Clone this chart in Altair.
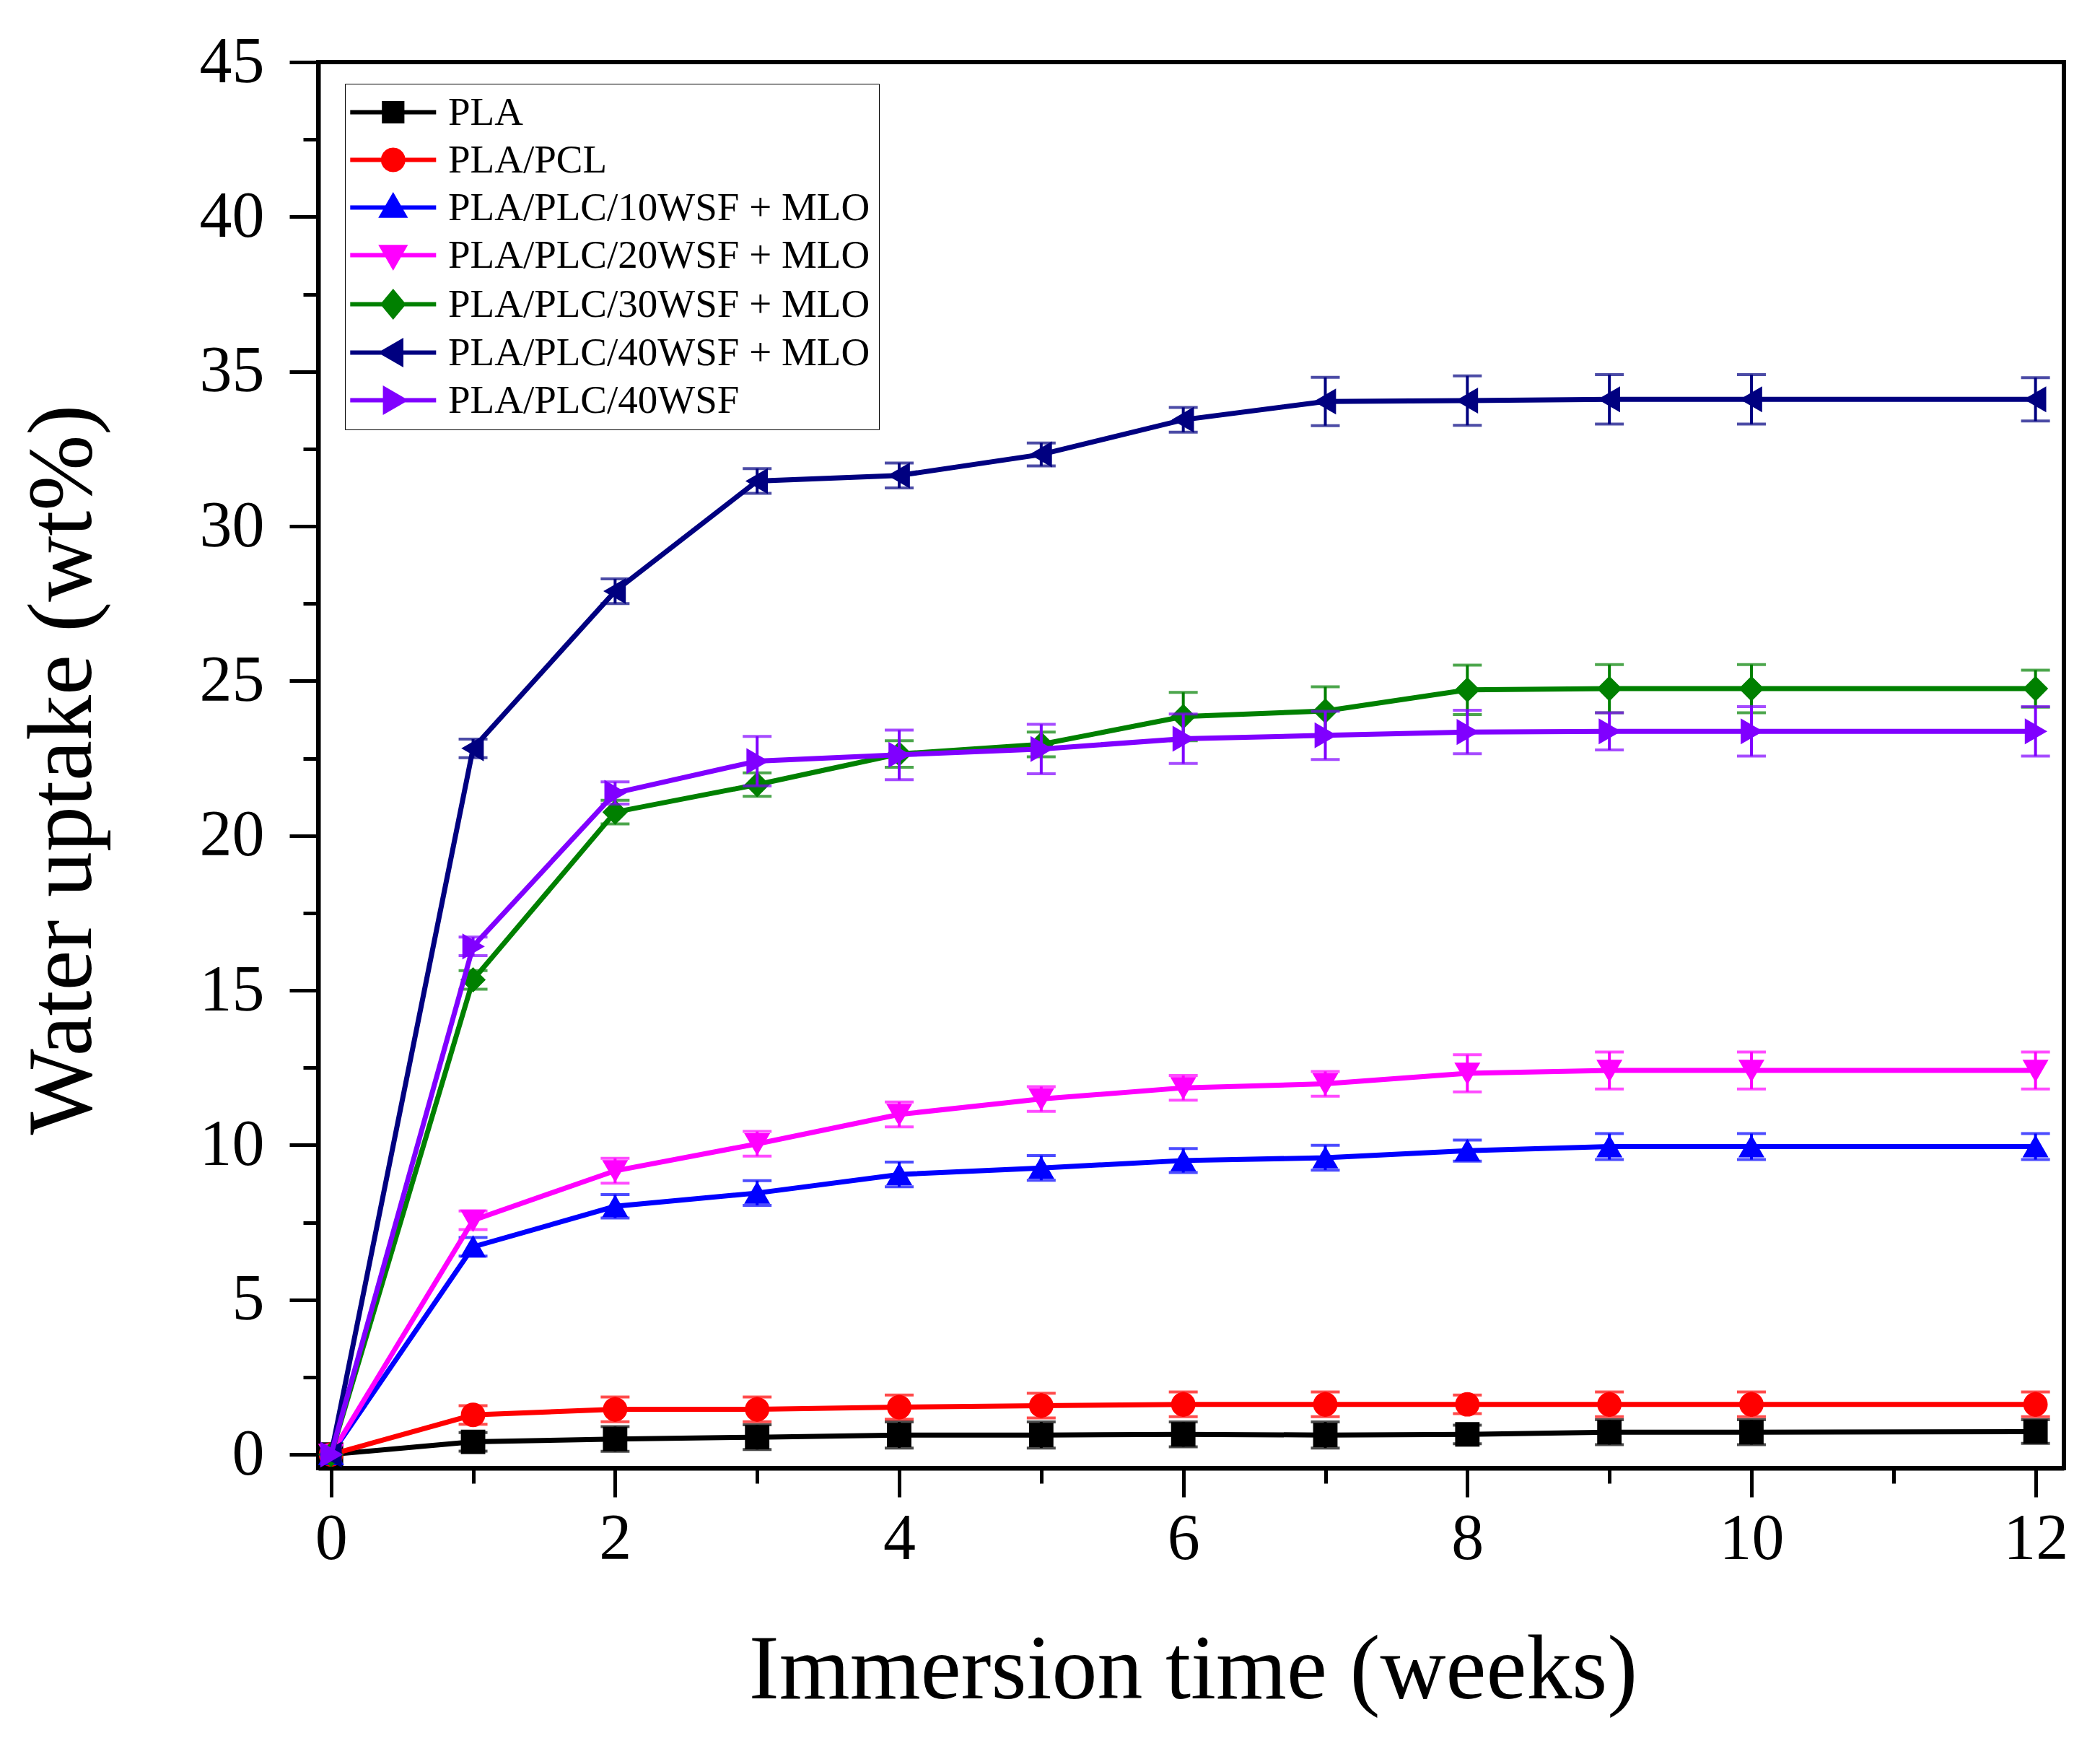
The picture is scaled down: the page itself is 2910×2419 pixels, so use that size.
import math
import altair as alt
import pandas as pd

# immersion time (weeks) - no measurement at week 11
weeks = [0, 1, 2, 3, 4, 5, 6, 7, 8, 9, 10, 12]

names = ["PLA", "PLA/PCL", "PLA/PLC/10WSF + MLO", "PLA/PLC/20WSF + MLO",
         "PLA/PLC/30WSF + MLO", "PLA/PLC/40WSF + MLO", "PLA/PLC/40WSF"]
colors = ["#000000", "#FF0000", "#0000FF", "#FF00FF", "#008000", "#000080", "#8000FF"]
shapes = ["square", "circle", "triangle-up", "triangle-down", "diamond",
          "triangle-left", "triangle-right"]

# water uptake (wt%) and error bars
pla = [0, 0.41, 0.50, 0.56, 0.63, 0.63, 0.65, 0.63, 0.65, 0.72, 0.72, 0.74]
pla_err = [0, 0.30, 0.40, 0.40, 0.42, 0.42, 0.40, 0.42, 0.30, 0.40, 0.40, 0.38]
pcl = [0, 1.28, 1.46, 1.46, 1.53, 1.58, 1.62, 1.62, 1.62, 1.62, 1.62, 1.62]
pcl_err = [0, 0.30, 0.40, 0.40, 0.39, 0.40, 0.40, 0.40, 0.30, 0.40, 0.40, 0.40]
wsf10 = [0, 6.71, 8.02, 8.45, 9.05, 9.26, 9.50, 9.59, 9.82, 9.95, 9.95, 9.95]
wsf10_err = [0, 0.30, 0.38, 0.40, 0.40, 0.40, 0.39, 0.40, 0.34, 0.42, 0.42, 0.42]
wsf20 = [0, 7.57, 9.17, 10.04, 10.99, 11.49, 11.85, 11.98, 12.32, 12.41, 12.41, 12.41]
wsf20_err = [0, 0.30, 0.40, 0.40, 0.40, 0.40, 0.40, 0.40, 0.60, 0.60, 0.60, 0.60]
wsf30 = [0, 15.34, 20.76, 21.65, 22.64, 22.95, 23.85, 24.03, 24.71, 24.75, 24.75, 24.75]
wsf30_err = [0, 0.30, 0.38, 0.38, 0.43, 0.40, 0.78, 0.78, 0.80, 0.78, 0.78, 0.60]
wsf40_mlo = [0, 22.82, 27.90, 31.46, 31.64, 32.32, 33.44, 34.03, 34.06, 34.10, 34.10, 34.10]
wsf40_mlo_err = [0, 0.30, 0.40, 0.40, 0.40, 0.37, 0.40, 0.78, 0.80, 0.80, 0.80, 0.70]
wsf40 = [0, 16.42, 21.38, 22.41, 22.61, 22.80, 23.13, 23.24, 23.35, 23.37, 23.37, 23.37]
wsf40_err = [0, 0.30, 0.36, 0.80, 0.80, 0.80, 0.80, 0.78, 0.70, 0.60, 0.80, 0.80]

values = [pla, pcl, wsf10, wsf20, wsf30, wsf40_mlo, wsf40]
errors = [pla_err, pcl_err, wsf10_err, wsf20_err, wsf30_err, wsf40_mlo_err, wsf40_err]

rows = []
for n, v, e in zip(names, values, errors):
    for w, y, d in zip(weeks, v, e):
        rows.append({"series": n, "week": w, "uptake": y, "lo": y - d, "hi": y + d, "err": d})
df = pd.DataFrame(rows)

FONT = "Liberation Serif"

x_scale = alt.Scale(domain=[-0.09, 12.2], nice=False, zero=False)
y_scale = alt.Scale(domain=[-0.44, 45], nice=False, zero=False)

x_axis = alt.Axis(
    values=list(range(0, 13)),
    labelExpr="datum.value % 2 == 0 ? datum.label : ''",
    tickSize={"condition": {"test": "datum.value % 2 == 0", "value": 40}, "value": 21},
    labelPadding=14,
    title="Immersion time (weeks)",
    titleX=1212, titleY=318, titleBaseline="alphabetic", titleAlign="center",
)
y_axis = alt.Axis(
    values=[i * 2.5 for i in range(0, 19)],
    labelExpr="datum.value % 5 == 0 ? datum.label : ''",
    tickSize={"condition": {"test": "datum.value % 5 == 0", "value": 40}, "value": 21},
    labelPadding=35,
    title="Water uptake (wt%)",
    titleX=-316, titleY=980, titleAngle=270, titleBaseline="alphabetic", titleAlign="center",
)


def xenc():
    return alt.X("week:Q", scale=x_scale, axis=x_axis)


def yenc(field):
    return alt.Y(f"{field}:Q", scale=y_scale, axis=y_axis)


layers = []
for n, c, s in zip(names, colors, shapes):
    sub = df[df["series"] == n]
    bars = sub[sub["err"] > 0]
    line = alt.Chart(sub).mark_line(color=c, strokeWidth=7).encode(x=xenc(), y=yenc("uptake"))
    stem = alt.Chart(bars).mark_rule(color=c, strokeWidth=4).encode(
        x=xenc(), y=yenc("lo"), y2="hi")
    cap_lo = alt.Chart(bars).mark_tick(color=c, orient="horizontal", size=40, thickness=4).encode(
        x=xenc(), y=yenc("lo"))
    cap_hi = alt.Chart(bars).mark_tick(color=c, orient="horizontal", size=40, thickness=4).encode(
        x=xenc(), y=yenc("hi"))
    pts = alt.Chart(sub).mark_point(shape=s, filled=True, color=c, stroke=c, strokeWidth=3,
                                    size=950, opacity=1).encode(x=xenc(), y=yenc("uptake"))
    layers += [line, stem, cap_lo, cap_hi, pts]

# legend symbols: a line segment with the marker in the middle
x0, x1 = -2.3, 6.2
cx = (x0 + x1) / 2


def poly(pts):
    return "M" + "L".join(f"{px:.3f},{py:.3f}" for px, py in pts) + "Z"


circle_pts = [(cx + 1.0 * math.cos(2 * math.pi * k / 20), 1.0 * math.sin(2 * math.pi * k / 20))
              for k in range(20)]
markers = [
    poly([(cx - 0.9, -0.9), (cx + 0.9, -0.9), (cx + 0.9, 0.9), (cx - 0.9, 0.9)]),
    poly(circle_pts),
    poly([(cx, -1.1), (cx + 1.1, 0.8), (cx - 1.1, 0.8)]),
    poly([(cx, 1.1), (cx + 1.1, -0.8), (cx - 1.1, -0.8)]),
    poly([(cx, -1.2), (cx + 1.0, 0), (cx, 1.2), (cx - 1.0, 0)]),
    poly([(cx - 1.1, 0), (cx + 0.8, -1.1), (cx + 0.8, 1.1)]),
    poly([(cx + 1.1, 0), (cx - 0.8, -1.1), (cx - 0.8, 1.1)]),
]
legend_paths = [f"M{x0},0H{x1}" + m for m in markers]

leg = alt.Legend(
    title=None, orient="none", legendX=37, legendY=30,
    symbolSize=784, symbolStrokeWidth=6, symbolOpacity=1,
    labelFont=FONT, labelFontSize=55, labelColor="black", labelOffset=76, labelLimit=0,
    rowPadding=10, padding=12, strokeColor="black", fillColor="white",
)
legend_layer = alt.Chart(df[df["week"] == 0]).mark_point(filled=False, opacity=0).encode(
    x=xenc(), y=yenc("uptake"),
    color=alt.Color("series:N", scale=alt.Scale(domain=names, range=colors), legend=leg),
    fill=alt.Fill("series:N", scale=alt.Scale(domain=names, range=colors), legend=leg),
    shape=alt.Shape("series:N", scale=alt.Scale(domain=names, range=legend_paths), legend=leg),
)
layers.append(legend_layer)

chart = alt.layer(*layers).properties(
    width=2419, height=1948,
    autosize=alt.AutoSizeParams(type="none"),
    padding={"left": 433, "top": 78, "right": 42, "bottom": 377},
).configure_view(
    stroke="black", strokeWidth=6
).configure_axis(
    grid=False, domainColor="black", domainWidth=6, tickColor="black", tickWidth=5,
    labelFont=FONT, labelFontSize=90, labelColor="black",
    titleFont=FONT, titleFontSize=126, titleColor="black", titleFontWeight="normal",
)

chart.save("out.html", embed_options={"renderer": "svg", "actions": False})
